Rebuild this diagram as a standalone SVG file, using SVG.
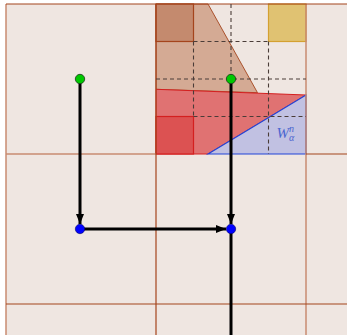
<svg xmlns="http://www.w3.org/2000/svg" width="347" height="335" viewBox="0 0 347 335">
<defs>
<style>
.dark{stroke:#a4441c;stroke-width:1.2;fill:none}
.light{stroke:#c98b70;stroke-width:1.5;fill:none}
.dash{stroke:#4a3c38;stroke-width:1.1;stroke-dasharray:4 3;fill:none}
.edge{stroke:#000;stroke-width:3;fill:none}
.g{fill:#00c800;stroke:#1a3a1a;stroke-width:0.8}
.b{fill:#0000ff;stroke:#00006a;stroke-width:0.6}
</style>
<marker id="ah" viewBox="0 0 10 8" refX="10" refY="4" markerWidth="10" markerHeight="8" markerUnits="userSpaceOnUse" orient="auto">
<path d="M0,0 L10,4 L0,8 Z" fill="#000"/>
</marker>
</defs>
<rect width="347" height="335" fill="#ffffff"/>
<rect x="6" y="4" width="341" height="331" fill="#efe6e1"/>
<g id="regions">
<polygon points="156,4 208,4 257.5,92.7 156,89.3" fill="#d4aa94" stroke="#a4441c" stroke-width="0.9"/>
<rect x="156" y="4" width="37.5" height="37.5" fill="#c48a6e" stroke="#a4441c" stroke-width="1.2"/>
<polygon points="156,89.3 306,95 208,154 156,154" fill="#e07272" stroke="#d42020" stroke-width="1"/>
<rect x="156" y="116.5" width="37.5" height="37.5" fill="#dc5252" stroke="#d42020" stroke-width="1.2"/>
<polygon points="208,154 306,95 306,154" fill="#c1c1e2" stroke="#2244d8" stroke-width="1.2"/>
<rect x="268.5" y="4" width="37.5" height="37.5" fill="#e0c272" stroke="#d4a030" stroke-width="1.2"/>
</g>
<g id="grid">
<line class="light" x1="6" y1="4" x2="6" y2="335"/>
<line class="light" x1="306" y1="4" x2="306" y2="335"/>
<line class="dark" x1="6" y1="4" x2="347" y2="4"/>
<line class="light" x1="6" y1="154" x2="156" y2="154"/>
<line class="dark" x1="306" y1="154" x2="347" y2="154"/>
<line class="dark" x1="6" y1="304" x2="347" y2="304"/>
<line class="dark" x1="156" y1="4" x2="156" y2="335"/>
</g>
<g id="dashes">
<line class="dash" x1="193.5" y1="41.5" x2="268.5" y2="41.5"/>
<line class="dash" x1="156" y1="79" x2="306" y2="79"/>
<line class="dash" x1="193.5" y1="116.5" x2="306" y2="116.5"/>
<line class="dash" x1="193.5" y1="41.5" x2="193.5" y2="116.5"/>
<line class="dash" x1="231" y1="4" x2="231" y2="79"/>
<line class="dash" x1="268.5" y1="41.5" x2="268.5" y2="154"/>
</g>
<text x="276.5" y="137.5" font-family="Liberation Serif, serif" font-style="italic" font-size="15" fill="#4a66d0">W<tspan font-size="10" dx="0" dy="-6">n</tspan><tspan font-size="10" dx="-5" dy="9">α</tspan></text>
<g id="connectors">
<line class="edge" x1="80" y1="79" x2="80" y2="224" marker-end="url(#ah)"/>
<line class="edge" x1="231" y1="79" x2="231" y2="224" marker-end="url(#ah)"/>
<line class="edge" x1="80" y1="229" x2="226" y2="229" marker-end="url(#ah)"/>
<line class="edge" x1="231" y1="229" x2="231" y2="335"/>
</g>
<g id="n1"><circle class="g" cx="80" cy="79" r="4.7"/></g>
<g id="n2"><circle class="g" cx="231" cy="79" r="4.7"/></g>
<g id="n3"><circle class="b" cx="80" cy="229" r="4.7"/></g>
<g id="n4"><circle class="b" cx="231" cy="229" r="4.7"/></g>
</svg>
